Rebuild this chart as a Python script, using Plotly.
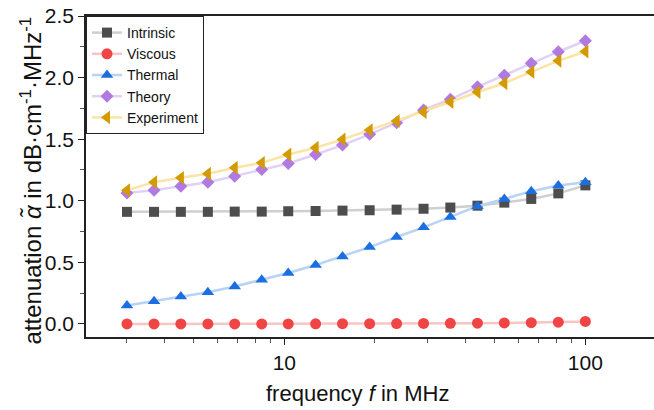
import plotly.graph_objects as go

freq = [3.0, 3.69, 4.53, 5.57, 6.84, 8.41, 10.3, 12.7, 15.6, 19.2, 23.6, 29.0, 35.6, 43.8, 53.8, 66.1, 81.3, 100.0]
intrinsic = [0.91, 0.91, 0.91, 0.91, 0.912, 0.912, 0.915, 0.917, 0.92, 0.923, 0.928, 0.935, 0.945, 0.96, 0.985, 1.015, 1.06, 1.125]
viscous = [0.0, 0.0, 0.0, 0.0, 0.0, 0.0, 0.0, 0.001, 0.002, 0.002, 0.003, 0.004, 0.005, 0.006, 0.008, 0.01, 0.014, 0.02]
thermal = [0.149, 0.185, 0.222, 0.258, 0.304, 0.358, 0.413, 0.478, 0.548, 0.624, 0.706, 0.784, 0.869, 0.955, 1.015, 1.078, 1.124, 1.151]
theory = [1.064, 1.085, 1.118, 1.151, 1.2, 1.254, 1.303, 1.376, 1.452, 1.539, 1.634, 1.737, 1.824, 1.925, 2.02, 2.117, 2.21, 2.299]
experiment = [1.085, 1.151, 1.186, 1.219, 1.268, 1.308, 1.376, 1.43, 1.498, 1.574, 1.647, 1.721, 1.802, 1.883, 1.954, 2.046, 2.136, 2.212]

x_tick_vals = [10, 100]
x_tick_text = ["10", "100"]
x_minor_vals = [3, 4, 5, 6, 7, 8, 9, 20, 30, 40, 50, 60, 70, 80, 90, 200]
y_tick_vals = [0, 0.5, 1.0, 1.5, 2.0, 2.5]
y_tick_text = ["0.0", "0.5", "1.0", "1.5", "2.0", "2.5"]
y_minor_vals = [0.25, 0.75, 1.25, 1.75, 2.25]

x_title = "frequency <i>f</i> in MHz"
y_title = "attenuation <i>α̃</i> in dB·cm<sup>-1</sup>·MHz<sup>-1</sup>"

series = [
    ("Intrinsic", intrinsic, "square", 10, "#4d4d4d", "#cfcfcf"),
    ("Viscous", viscous, "circle", 11, "#f04545", "#f9c4c4"),
    ("Thermal", thermal, "triangle-up", 11, "#1c6fe0", "#b8d3f6"),
    ("Theory", theory, "diamond", 10, "#b07ae0", "#e3d0f6"),
    ("Experiment", experiment, "triangle-left", 12, "#d39b00", "#fce4a6"),
]

fig = go.Figure()
for name, vals, sym, size, mc, lc in series:
    fig.add_trace(go.Scatter(
        x=freq, y=vals, name=name, mode="lines+markers",
        line=dict(color=lc, width=2.5),
        marker=dict(symbol=sym, size=size, color=mc, line=dict(width=0)),
    ))

fig.update_layout(
    width=654, height=410,
    margin=dict(l=86, r=0, t=16, b=73, autoexpand=False),
    plot_bgcolor="white", paper_bgcolor="white",
    font=dict(family="Liberation Sans, Arial, sans-serif", color="#111111"),
    showlegend=True,
    legend=dict(x=0, y=1, xanchor="left", yanchor="top",
                bordercolor="#222222", borderwidth=1, bgcolor="white",
                font=dict(size=14), itemwidth=30, tracegroupgap=0,
                traceorder="normal"),
    xaxis=dict(
        type="log", range=[0.341, 2.228], automargin=False,
        showline=True, linecolor="#222222", linewidth=1.5, mirror=True,
        ticks="outside", ticklen=6, tickwidth=1.2, tickcolor="#222222",
        tickvals=x_tick_vals, ticktext=x_tick_text,
        tickfont=dict(size=21),
        minor=dict(tickvals=x_minor_vals, ticks="outside", ticklen=4, tickcolor="#555555", tickwidth=1),
        showgrid=False, zeroline=False,
    ),
    yaxis=dict(
        range=[-0.106, 2.5], automargin=False,
        showline=True, linecolor="#222222", linewidth=1.5, mirror=False,
        ticks="outside", ticklen=6, tickwidth=1.2, tickcolor="#222222",
        tickvals=y_tick_vals, ticktext=y_tick_text,
        tickfont=dict(size=21),
        minor=dict(tickvals=y_minor_vals, ticks="outside", ticklen=4, tickcolor="#555555", tickwidth=1),
        showgrid=False, zeroline=False,
    ),
    annotations=[
        dict(text=x_title, xref="paper", yref="paper", x=0.478, y=0,
             xanchor="center", yanchor="middle", yshift=-56, showarrow=False,
             font=dict(size=22)),
        dict(text=y_title, xref="paper", yref="paper", x=0, y=0.5,
             xanchor="center", yanchor="middle", xshift=-56, yshift=-4,
             textangle=-90, showarrow=False, font=dict(size=24)),
    ],
)

fig.write_html("out.html",
               config=dict(displayModeBar=False),
               post_script="document.body.style.margin='0';document.body.style.overflow='hidden';")
